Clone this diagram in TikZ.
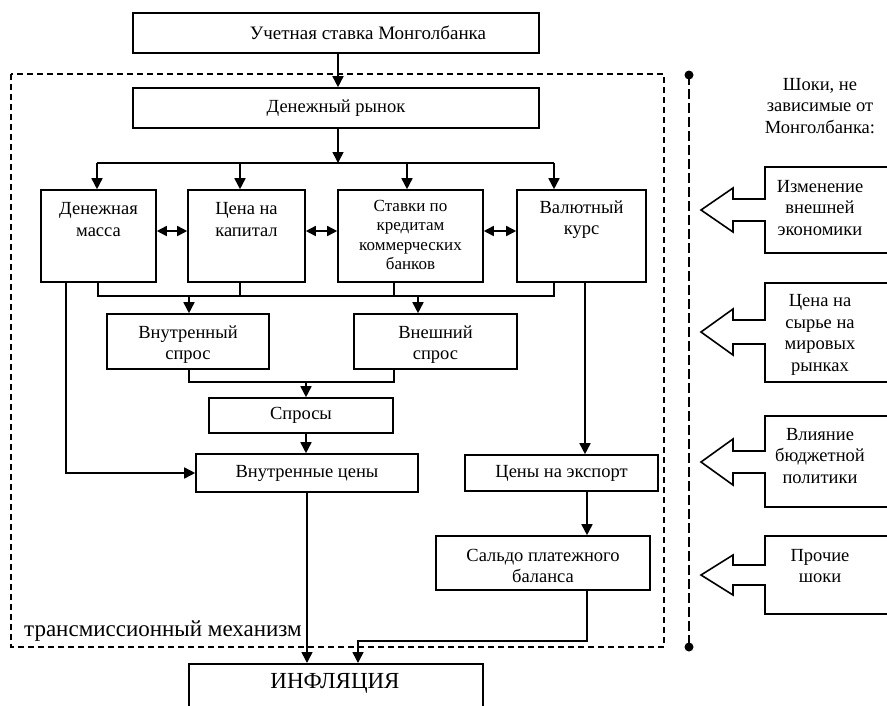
\documentclass[tikz,border=0pt]{standalone}
\usepackage{fontspec}
\setmainfont{Liberation Serif}
\usetikzlibrary{arrows.meta}
\newcommand\fsmain{\fontsize{18.5}{21.5}\selectfont}
\newcommand\fssmall{\fontsize{17}{19.3}\selectfont}
\newcommand\fsbig{\fontsize{23}{26}\selectfont}
\tikzset{
  box/.style={draw, line width=1.6pt, inner sep=0pt, align=center, font=\fsmain},
  toptext/.style={anchor=north, align=center, inner sep=0pt, font=\fsmain},
  txt/.style={align=center, inner sep=0pt, font=\fsmain},
  ln/.style={line width=1.6pt},
  arr/.style={line width=1.6pt, -{Triangle[length=11pt,width=11pt]}},
  dbl/.style={line width=1.6pt, {Triangle[length=10pt,width=10pt]}-{Triangle[length=10pt,width=10pt]}},
  frame/.style={line width=1.6pt, dash pattern=on 6pt off 4pt},
  vline/.style={line width=2pt, dash pattern=on 10pt off 4pt},
  shock/.style={line width=1.6pt, line join=miter},
}
\begin{document}
\begin{tikzpicture}[x=1pt,y=-1pt]
\useasboundingbox (0,0) rectangle (887,705);
\clip (0,0) rectangle (887,705);

% top boxes
\node[box, minimum width=406pt, minimum height=40pt] (uch) at (336,33) {};
\node[txt, font=\fontsize{19}{22}\selectfont] (ucht) at (368,33) {Учетная ставка Монголбанка};
\node[box, minimum width=406pt, minimum height=40pt] (den) at (336,108) {Денежный рынок};
\coordinate (a0) at (338,0);
\draw[arr] (a0 |- uch.south) -- (a0 |- den.north);

% first bus
\coordinate (b0) at (338,163);
\coordinate (b1) at (97,163);
\coordinate (b2) at (240,163);
\coordinate (b3) at (407,163);
\coordinate (b4) at (554,163);
\draw[arr] (b0 |- den.south) -- (b0);
\draw[ln] (b1) -- (b4);

% row of four boxes
\node[box, minimum width=115pt, minimum height=92pt] (dm) at (98.5,236) {};
\node[toptext] (dmt) at ([yshift=-13pt]dm.north) {Денежная\\масса};
\node[box, minimum width=117pt, minimum height=92pt] (cap) at (246.5,236) {};
\node[toptext] (capt) at ([yshift=-13pt]cap.north) {Цена на\\капитал};
\node[box, minimum width=145pt, minimum height=92pt] (stv) at (410.5,236) {};
\node[toptext, font=\fssmall] (stvt) at ([yshift=-11pt]stv.north) {Ставки по\\кредитам\\коммерческих\\банков};
\node[box, minimum width=129pt, minimum height=92pt] (val) at (581.5,236) {};
\node[toptext] (valt) at ([yshift=-11pt]val.north) {Валютный\\курс};

\draw[arr] (b1) -- (b1 |- dm.north);
\draw[arr] (b2) -- (b2 |- cap.north);
\draw[arr] (b3) -- (b3 |- stv.north);
\draw[arr] (b4) -- (b4 |- val.north);

\draw[dbl] ([yshift=5pt]dm.east) -- ([yshift=5pt]cap.west);
\draw[dbl] ([yshift=5pt]cap.east) -- ([yshift=5pt]stv.west);
\draw[dbl] ([yshift=5pt]stv.east) -- ([yshift=5pt]val.west);

% second bus
\coordinate (c1) at (98,296);
\coordinate (c2) at (240,296);
\coordinate (c3) at (394,296);
\coordinate (c4) at (554,296);
\coordinate (d1) at (189,296);
\coordinate (d2) at (418,296);
\draw[ln] (c1 |- dm.south) -- (c1) -- (c4) -- (c4 |- val.south);
\draw[ln] (c2 |- cap.south) -- (c2);
\draw[ln] (c3 |- stv.south) -- (c3);

\node[box, minimum width=162pt, minimum height=55pt] (vs) at (188,341.5) {};
\node[txt] (vst) at ([yshift=-3pt]vs.center) {Внутренный\\спрос};
\node[box, minimum width=163pt, minimum height=55pt] (vn) at (435.5,341.5) {};
\node[txt] (vnt) at ([yshift=-3pt]vn.center) {Внешний\\спрос};
\draw[arr] (d1) -- (d1 |- vs.north);
\draw[arr] (d2) -- (d2 |- vn.north);

% third bus
\coordinate (e1) at (189,382);
\coordinate (e2) at (394,382);
\coordinate (e3) at (306,382);
\draw[ln] (e1 |- vs.south) -- (e1) -- (e2) -- (e2 |- vn.south);

\node[box, minimum width=184pt, minimum height=35pt] (spr) at (301,415.5) {Спросы};
\draw[arr] (e3) -- (e3 |- spr.north);

\node[box, minimum width=222pt, minimum height=38pt] (vc) at (307,473) {Внутренные цены};
\draw[arr] (e3 |- spr.south) -- (e3 |- vc.north);

\coordinate (dmx) at (66,473);
\draw[arr] (dmx |- dm.south) -- (dmx) -- (vc.west);

% right chain
\node[box, minimum width=193pt, minimum height=36pt] (exp) at (561.5,473) {Цены на экспорт};
\node[box, minimum width=214pt, minimum height=54pt] (sal) at (543,563) {};
\node[txt] (salt) at ([yshift=-3pt]sal.center) {Сальдо платежного\\баланса};
\coordinate (vx) at (585,0);
\coordinate (sx) at (587,641);
\coordinate (ix) at (358,641);
\draw[arr] (vx |- val.south) -- (vx |- exp.north);
\draw[arr] (sx |- exp.south) -- (sx |- sal.north);

% inflation
\node[box, minimum width=294pt, minimum height=60pt, anchor=north west] (inf) at (188,663) {};
\node[txt, font=\fsbig] (inft) at (335,683) {ИНФЛЯЦИЯ};
\draw[arr] (vc.south) -- (vc.south |- inf.north);
\draw[arr] (sx |- sal.south) -- (sx) -- (ix) -- (ix |- inf.north);

% transmission frame
\draw[frame] (11,74) rectangle (664,647);
\node[anchor=base west, inner sep=0pt, font=\fsbig] (tm) at (24,636) {трансмиссионный механизм};

% vertical divider
\draw[vline] (689,75) -- (689,647);
\fill (689,75) circle (4.5pt);
\fill (689,647) circle (4.5pt);

% shocks
\node[txt] (sh) at (820,106) {Шоки, не\\зависимые от\\Монголбанка:};

\draw[shock] (900,167) -- (765,167) -- (765,199) -- (733,199) -- (733,188) -- (701,210) -- (733,232) -- (733,221) -- (765,221) -- (765,253) -- (900,253);
\node[txt] (s1) at (820,208) {Изменение\\внешней\\экономики};

\draw[shock] (900,283) -- (765,283) -- (765,320) -- (733,320) -- (733,309) -- (701,332) -- (733,355) -- (733,344) -- (765,344) -- (765,382) -- (900,382);
\node[txt] (s2) at (820,335) {Цена на\\сырье на\\мировых\\рынках};

\draw[shock] (900,416) -- (765,416) -- (765,451) -- (733,451) -- (733,439) -- (701,462) -- (733,485) -- (733,473) -- (765,473) -- (765,507) -- (900,507);
\node[txt] (s3) at (820,456) {Влияние\\бюджетной\\политики};

\draw[shock] (900,536) -- (765,536) -- (765,565) -- (733,565) -- (733,555) -- (701,575) -- (733,595) -- (733,585) -- (765,585) -- (765,614) -- (900,614);
\node[txt] (s4) at (820,566) {Прочие\\шоки};
\end{tikzpicture}
\end{document}
